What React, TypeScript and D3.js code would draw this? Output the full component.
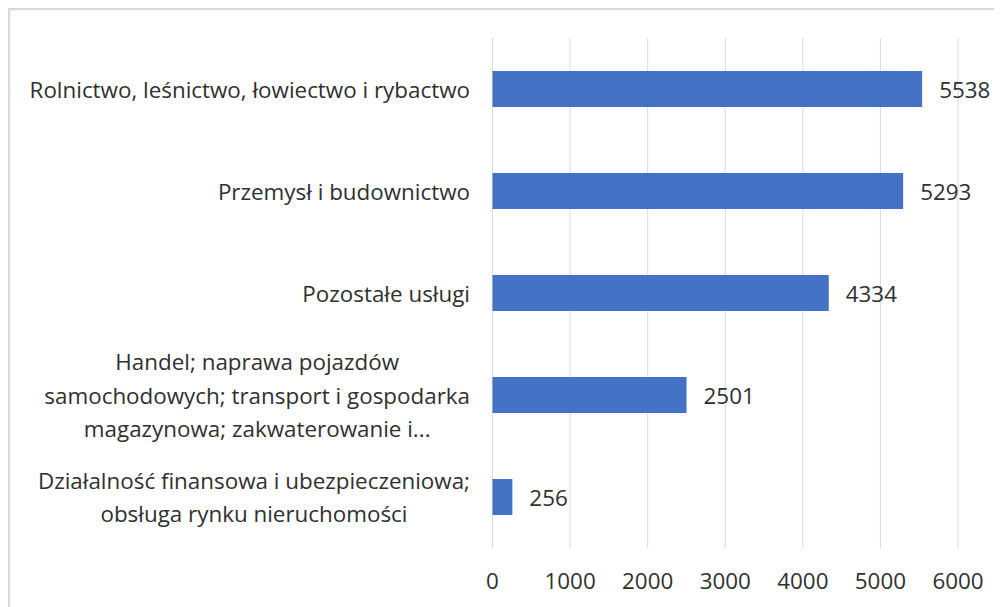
import React, { useEffect, useRef } from "react";
import * as d3 from "d3";

const categories: string[][] = [
  ["Rolnictwo, leśnictwo, łowiectwo i rybactwo"],
  ["Przemysł i budownictwo"],
  ["Pozostałe usługi"],
  ["Handel; naprawa pojazdów", "samochodowych; transport i gospodarka", "magazynowa; zakwaterowanie i..."],
  ["Działalność finansowa i ubezpieczeniowa;", "obsługa rynku nieruchomości"],
];
const values: number[] = [5538, 5293, 4334, 2501, 256];
const ticks: number[] = [0, 1000, 2000, 3000, 4000, 5000, 6000];

const W = 994;
const H = 599;
const FONT = "'Open Sans', 'Noto Sans', sans-serif";
const TEXT = "#303030";
const FS = 22.4;

export default function App() {
  const ref = useRef<SVGSVGElement>(null);
  useEffect(() => {
    const svg = d3.select(ref.current);
    svg.selectAll("*").remove();
    const x0 = 484.5, x1 = 950, yTop = 30, yBot = 540;
    const x = d3.scaleLinear().domain([0, 6000]).range([x0, x1]);
    const y = d3.scaleBand<number>().domain(d3.range(categories.length)).range([yTop, yBot]).paddingInner(0.647).paddingOuter(0.3235);

    svg.append("rect").attr("x", 1).attr("y", 1).attr("width", W + 20).attr("height", H + 20)
      .attr("fill", "#fff").attr("stroke", "#d9d9d9").attr("stroke-width", 2.5);

    svg.append("g").selectAll("line").data(ticks).join("line")
      .attr("x1", (d) => x(d)).attr("x2", (d) => x(d))
      .attr("y1", yTop).attr("y2", yBot)
      .attr("stroke", "#d9d9d9").attr("stroke-width", 1);

    svg.append("g").selectAll("rect").data(values).join("rect")
      .attr("x", x(0)).attr("y", (_, i) => y(i)!)
      .attr("width", (d) => x(d) - x(0)).attr("height", y.bandwidth())
      .attr("fill", "#4472C4");

    svg.append("g").selectAll("text").data(values).join("text")
      .attr("x", (d) => x(d) + 17).attr("y", (_, i) => y(i)! + y.bandwidth() / 2)
      .attr("dominant-baseline", "central")
      .attr("font-family", FONT).attr("font-size", FS).attr("fill", TEXT)
      .text((d) => String(d));

    svg.append("g").selectAll("text").data(ticks).join("text")
      .attr("x", (d) => x(d)).attr("y", 572)
      .attr("text-anchor", "middle").attr("dominant-baseline", "central")
      .attr("font-family", FONT).attr("font-size", FS).attr("fill", TEXT)
      .text((d) => String(d));

    const rightEdge = 462;
    const lh = 33.5;
    const cat = svg.append("g");
    categories.forEach((lines, i) => {
      const cy = y(i)! + y.bandwidth() / 2;
      const g = cat.append("g");
      const texts = lines.map((ln, j) =>
        g.append("text")
          .attr("y", cy + (j - (lines.length - 1) / 2) * lh)
          .attr("dominant-baseline", "central")
          .attr("text-anchor", "middle")
          .attr("font-family", FONT).attr("font-size", FS).attr("fill", TEXT)
          .text(ln)
      );
      const maxW = d3.max(texts, (t) => (t.node() as SVGTextElement).getComputedTextLength()) || 0;
      texts.forEach((t) => t.attr("x", rightEdge - maxW / 2));
    });
  }, []);
  return <svg ref={ref} width={W} height={H} style={{ display: "block" }} />;
}
